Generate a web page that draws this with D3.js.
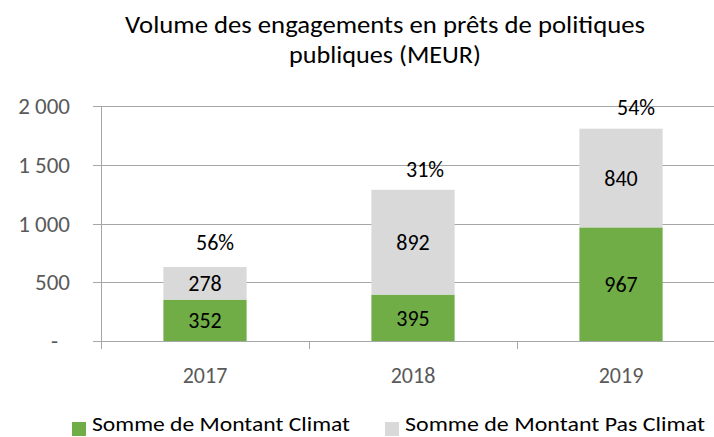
<!DOCTYPE html>
<html><head><meta charset="utf-8">
<script src="https://cdn.jsdelivr.net/npm/d3@7"></script>
<style>body{margin:0;background:#fff}svg{display:block;font-family:Carlito,Calibri,Lato,"Open Sans",sans-serif}</style>
</head><body>
<svg id="c" width="714" height="437"></svg>
<script>
const categories = ["2017", "2018", "2019"];
const climat = [352, 395, 967];
const pasClimat = [278, 892, 840];
const shareLabels = ["56%", "31%", "54%"];
const yTicks = [0, 500, 1000, 1500, 2000];
const yTickLabels = ["-", "500", "1 000", "1 500", "2 000"];
const seriesNames = ["Somme de Montant Climat", "Somme de Montant Pas Climat"];
const titleLines = ["Volume des engagements en prêts de politiques", "publiques (MEUR)"];
const colors = ["#70ad47", "#d9d9d9"];

const svg = d3.select("#c");
const plotLeft = 101, step = 208, plotBottom = 341, plotTop = 106;
const x = d3.scaleBand().domain(categories).range([plotLeft, plotLeft + step * categories.length]).paddingInner(0.6).paddingOuter(0.3);
const y = d3.scaleLinear().domain([0, 2000]).range([plotBottom, plotTop]);

// title
const titleLayout = [{y: 33, w: 520}, {y: 63, w: 192}];
titleLines.forEach((t, i) => {
  svg.append("text").attr("x", 385).attr("y", titleLayout[i].y).attr("text-anchor", "middle")
    .attr("font-size", 25).attr("fill", "#000")
    .attr("textLength", titleLayout[i].w).attr("lengthAdjust", "spacingAndGlyphs").text(t);
});

// gridlines
svg.append("g").selectAll("line").data(yTicks).join("line")
  .attr("x1", plotLeft - 8).attr("x2", 714)
  .attr("y1", d => Math.round(y(d)) + 0.5).attr("y2", d => Math.round(y(d)) + 0.5)
  .attr("stroke", "#a6a6a6").attr("stroke-width", 1);
// y axis line
svg.append("line").attr("x1", plotLeft + 0.5).attr("x2", plotLeft + 0.5).attr("y1", plotTop).attr("y2", plotBottom + 8).attr("stroke", "#a6a6a6");
// x ticks
svg.append("g").selectAll("line").data(d3.range(categories.length + 1)).join("line")
  .attr("x1", i => plotLeft + i * step + 0.5).attr("x2", i => plotLeft + i * step + 0.5)
  .attr("y1", plotBottom).attr("y2", plotBottom + 8).attr("stroke", "#a6a6a6");

// y labels
svg.append("g").selectAll("text").data(yTicks).join("text")
  .attr("x", (d, i) => i === 0 ? 58 : 70).attr("y", d => y(d) + 8)
  .attr("text-anchor", "end").attr("font-size", 23).attr("fill", "#595959")
  .text((d, i) => yTickLabels[i]);

// x labels
svg.append("g").selectAll("text").data(categories).join("text")
  .attr("x", d => x(d) + x.bandwidth() / 2).attr("y", 383)
  .attr("text-anchor", "middle").attr("font-size", 22).attr("fill", "#595959").text(d => d);

// stacked bars
const rows = categories.map((c, i) => ({cat: c, climat: climat[i], pas: pasClimat[i]}));
const stack = d3.stack().keys(["climat", "pas"])(rows);
stack.forEach((s, si) => {
  svg.append("g").selectAll("rect").data(s).join("rect")
    .attr("x", d => x(d.data.cat)).attr("width", x.bandwidth())
    .attr("y", d => y(d[1])).attr("height", d => y(d[0]) - y(d[1]))
    .attr("fill", colors[si]);
  svg.append("g").selectAll("text").data(s).join("text")
    .attr("x", d => x(d.data.cat) + x.bandwidth() / 2)
    .attr("y", d => (y(d[0]) + y(d[1])) / 2 + 8)
    .attr("text-anchor", "middle").attr("font-size", 22).attr("fill", "#000")
    .text(d => d[1] - d[0]);
});

// share labels
const shareDx = [10, 12, 15];
const shareDy = [17, 13, 14];
svg.append("g").selectAll("text").data(categories).join("text")
  .attr("x", (d, i) => x(d) + x.bandwidth() / 2 + shareDx[i])
  .attr("y", (d, i) => y(climat[i] + pasClimat[i]) - shareDy[i])
  .attr("text-anchor", "middle").attr("font-size", 22).attr("fill", "#000")
  .text((d, i) => shareLabels[i]);

// legend
const legLayout = [{x: 72, w: 258}, {x: 385, w: 300}];
seriesNames.forEach((n, i) => {
  svg.append("rect").attr("x", legLayout[i].x).attr("y", 422).attr("width", 14).attr("height", 14).attr("fill", colors[i]);
  svg.append("text").attr("x", legLayout[i].x + 20).attr("y", 431).attr("font-size", 21).attr("fill", "#000")
    .attr("textLength", legLayout[i].w).attr("lengthAdjust", "spacingAndGlyphs").text(n);
});
</script>
</body></html>
